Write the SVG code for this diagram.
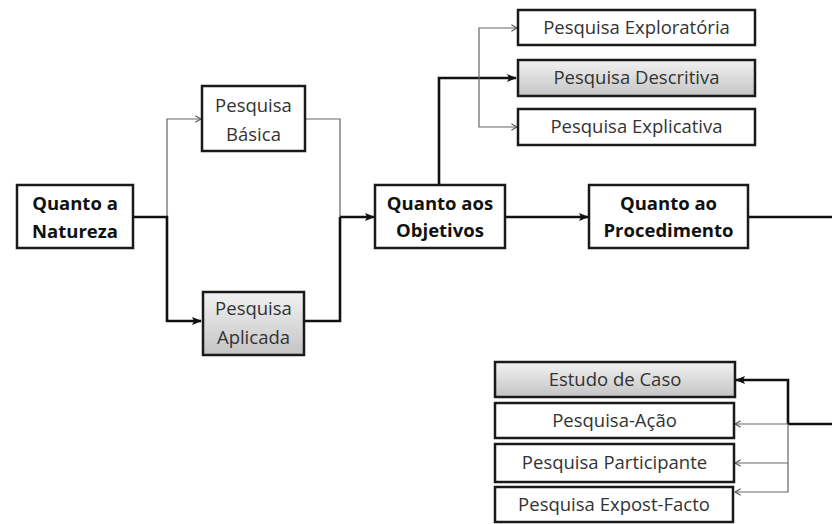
<svg xmlns="http://www.w3.org/2000/svg" width="832" height="524" viewBox="0 0 832 524">
<defs>
<linearGradient id="g" x1="0" y1="0" x2="0" y2="1">
<stop offset="0" stop-color="#f2f2f2"/>
<stop offset="1" stop-color="#c4c4c4"/>
</linearGradient>
<marker id="ak" viewBox="0 0 10 10" refX="9" refY="5" markerWidth="10" markerHeight="10" markerUnits="userSpaceOnUse" orient="auto">
<path d="M0,1 L10,5 L0,9 L2,5 Z" fill="#111"/>
</marker>
<marker id="at" viewBox="0 0 10 10" refX="9" refY="5" markerWidth="8" markerHeight="8" markerUnits="userSpaceOnUse" orient="auto">
<path d="M2,1 L9,5 L2,9" fill="none" stroke="#555" stroke-width="1.5"/>
</marker>
</defs>
<style>
.box{fill:#fff;stroke:#1a1a1a;stroke-width:2.5}
.grey{fill:url(#g);stroke:#1a1a1a;stroke-width:2.5}
.t{font-family:"Open Sans","Noto Sans","Liberation Sans",sans-serif;font-size:18.5px;fill:#333;text-anchor:middle}
.b{font-family:"Open Sans","Noto Sans","Liberation Sans",sans-serif;font-size:18.5px;font-weight:bold;fill:#111;text-anchor:middle}
.thick{fill:none;stroke:#111;stroke-width:2.6}
.thin{fill:none;stroke:#666;stroke-width:1.2}
</style>
<rect width="832" height="524" fill="#fff"/>
<g id="connectors">
<path class="thin" d="M167,217 V119 H201" marker-end="url(#at)"/>
<path class="thick" d="M133,217 H167 V321 H201" marker-end="url(#ak)"/>
<path class="thin" d="M305,119 H340 V217"/>
<path class="thick" d="M304,321 H340 V217"/>
<path class="thick" d="M340,217 H374" marker-end="url(#ak)"/>
<path class="thick" d="M439,185 V78 H516" marker-end="url(#ak)"/>
<path class="thin" d="M479,78 V28 H517" marker-end="url(#at)"/>
<path class="thin" d="M479,78 V127 H517" marker-end="url(#at)"/>
<path class="thick" d="M505,217 H588" marker-end="url(#ak)"/>
<path class="thick" d="M748,217 H836 V424 H788"/>
<path class="thick" d="M788,424 V380 H736" marker-end="url(#ak)"/>
<path class="thin" d="M788,424 H735" marker-end="url(#at)"/>
<path class="thin" d="M788,424 V492 H735" marker-end="url(#at)"/>
<path class="thin" d="M788,463 H735" marker-end="url(#at)"/>
</g>
<g id="natureza">
<rect class="box" x="17" y="185" width="116" height="63"/>
<text class="b" x="75" y="210">Quanto a</text>
<text class="b" x="75" y="238">Natureza</text>
</g>
<g id="basica">
<rect class="box" x="202" y="86" width="103" height="65"/>
<text class="t" x="253.5" y="112">Pesquisa</text>
<text class="t" x="253.5" y="141">Básica</text>
</g>
<g id="aplicada">
<rect class="grey" x="203" y="292" width="101" height="63"/>
<text class="t" x="253.5" y="315">Pesquisa</text>
<text class="t" x="253.5" y="344">Aplicada</text>
</g>
<g id="objetivos">
<rect class="box" x="375" y="185" width="130" height="63"/>
<text class="b" x="440" y="210">Quanto aos</text>
<text class="b" x="440" y="237">Objetivos</text>
</g>
<g id="procedimento">
<rect class="box" x="589" y="185" width="159" height="63"/>
<text class="b" x="668.5" y="210">Quanto ao</text>
<text class="b" x="668.5" y="237">Procedimento</text>
</g>
<g id="exploratoria">
<rect class="box" x="518" y="10" width="237" height="35"/>
<text class="t" x="636.5" y="34">Pesquisa Exploratória</text>
</g>
<g id="descritiva">
<rect class="grey" x="518" y="60" width="237" height="36"/>
<text class="t" x="636.5" y="84">Pesquisa Descritiva</text>
</g>
<g id="explicativa">
<rect class="box" x="518" y="109" width="237" height="36"/>
<text class="t" x="636.5" y="133">Pesquisa Explicativa</text>
</g>
<g id="estudo">
<rect class="grey" x="495" y="362" width="240" height="35"/>
<text class="t" x="615" y="386">Estudo de Caso</text>
</g>
<g id="acao">
<rect class="box" x="495" y="403" width="239" height="35"/>
<text class="t" x="614.5" y="427">Pesquisa-Ação</text>
</g>
<g id="participante">
<rect class="box" x="495" y="444" width="239" height="38"/>
<text class="t" x="614.5" y="469">Pesquisa Participante</text>
</g>
<g id="expost">
<rect class="box" x="495" y="487" width="238" height="35"/>
<text class="t" x="614" y="511">Pesquisa Expost-Facto</text>
</g>
</svg>
